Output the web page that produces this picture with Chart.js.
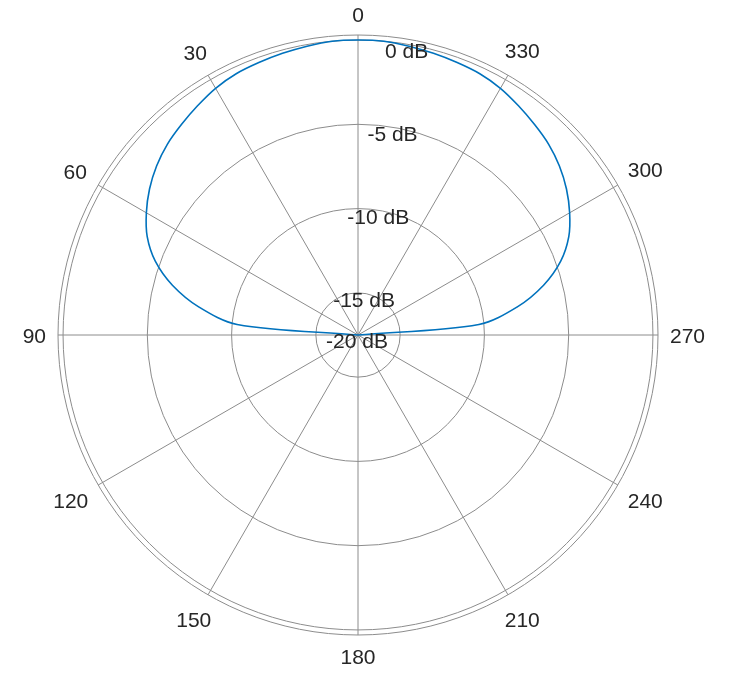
<!DOCTYPE html>
<html>
<head>
<meta charset="utf-8">
<script src="https://cdn.jsdelivr.net/npm/chart.js@4/dist/chart.umd.min.js"></script>
<style>
  body { margin: 0; background: #fff; }
  #wrap { width: 734px; height: 677px; }
</style>
</head>
<body>
<div id="wrap"><canvas id="polarChart"></canvas></div>
<script>
// angles in screen order (clockwise from top), MATLAB-style labels run counter-clockwise
const angleDeg = [0, 355, 350, 345, 340, 335, 330, 325, 320, 315, 310, 305,
  300, 295, 290, 285, 280, 275, 270, 265, 260, 255, 250, 245,
  240, 235, 230, 225, 220, 215, 210, 205, 200, 195, 190, 185,
  180, 175, 170, 165, 160, 155, 150, 145, 140, 135, 130, 125,
  120, 115, 110, 105, 100, 95, 90, 85, 80, 75, 70, 65,
  60, 55, 50, 45, 40, 35, 30, 25, 20, 15, 10, 5];

// pattern in dB, same order as angleDeg (back half sits on the axis floor)
const gainDb = [0, 0, -0.1, -0.2, -0.3, -0.4, -0.6, -0.9, -1.2, -1.5, -1.9, -2.4,
  -3.0, -3.7, -4.7, -6.1, -7.9, -10.3, -17.5, -17.5, -17.5, -17.5, -17.5, -17.5,
  -17.5, -17.5, -17.5, -17.5, -17.5, -17.5, -17.5, -17.5, -17.5, -17.5, -17.5, -17.5,
  -17.5, -17.5, -17.5, -17.5, -17.5, -17.5, -17.5, -17.5, -17.5, -17.5, -17.5, -17.5,
  -17.5, -17.5, -17.5, -17.5, -17.5, -17.5, -17.5, -10.3, -7.9, -6.1, -4.7, -3.7,
  -3.0, -2.4, -1.9, -1.5, -1.2, -0.9, -0.6, -0.4, -0.3, -0.2, -0.1, 0];

const rMin = -17.5;
const rMax = 0.3;
const ringValues = [-17.5, -15, -10, -5, 0, 0.3];
const dbTickValues = [-17.5, -15, -10, -5, 0];
const dbTickText = ["-20 dB", "-15 dB", "-10 dB", "-5 dB", "0 dB"];

const FONT = '21px "Liberation Sans", Arial, sans-serif';
const TEXT_COLOR = "#262626";
const GRID_COLOR = "#8c8c8c";

const labelPlugin = {
  id: "polarLabels",
  afterDraw(chart) {
    const scale = chart.scales.r;
    const ctx = chart.ctx;
    const capH = 15;
    const halfH = 9;
    ctx.save();
    ctx.font = FONT;
    ctx.fillStyle = TEXT_COLOR;
    ctx.textAlign = "center";
    ctx.textBaseline = "alphabetic";

    // angle labels every 30 degrees, box pushed out so it just clears the anchor circle
    const d = scale.drawingArea + 12;
    angleDeg.forEach((a, i) => {
      if (a % 30 !== 0) return;
      const text = String(a);
      const p = scale.getPointPosition(i, d);
      const ux = (p.x - scale.xCenter) / d;
      const uy = (p.y - scale.yCenter) / d;
      const halfW = ctx.measureText(text).width / 2;
      const push = Math.abs(ux) * halfW + Math.abs(uy) * halfH;
      const cx = p.x + ux * push;
      const cy = p.y + uy * push;
      ctx.fillText(text, cx, cy + capH / 2);
    });

    // dB labels along a line slightly right of the 0 spoke
    const tilt = 9.7 * Math.PI / 180;
    dbTickValues.forEach((v, i) => {
      const dist = scale.getDistanceFromCenterForValue(v) - 6;
      const x = scale.xCenter + Math.sin(tilt) * dist;
      const y = scale.yCenter - Math.cos(tilt) * dist;
      ctx.fillText(dbTickText[i], x, y + capH / 2);
    });
    ctx.restore();
  }
};

new Chart(document.getElementById("polarChart"), {
  type: "radar",
  data: {
    labels: angleDeg,
    datasets: [
      {
        data: gainDb,
        borderColor: "#0072BD",
        borderWidth: 1.6,
        fill: false,
        pointRadius: 0,
        tension: 0.33,
      },
    ],
  },
  options: {
    responsive: true,
    maintainAspectRatio: false,
    animation: false,
    layout: {
      padding: { left: 58, right: 76, top: 35, bottom: 42 },
    },
    plugins: {
      legend: { display: false },
      tooltip: { enabled: false },
    },
    scales: {
      r: {
        min: rMin,
        max: rMax,
        afterBuildTicks: (scale) => {
          scale.ticks = ringValues.map((v) => ({ value: v }));
        },
        ticks: { display: false },
        pointLabels: { display: false },
        grid: {
          circular: true,
          color: (c) => (c.index === 0 ? "rgba(0,0,0,0)" : GRID_COLOR),
          lineWidth: 1,
        },
        angleLines: {
          color: GRID_COLOR,
          lineWidth: (c) => (angleDeg[c.index] % 30 === 0 ? 1 : 0),
        },
      },
    },
  },
  plugins: [labelPlugin],
});
</script>
</body>
</html>
